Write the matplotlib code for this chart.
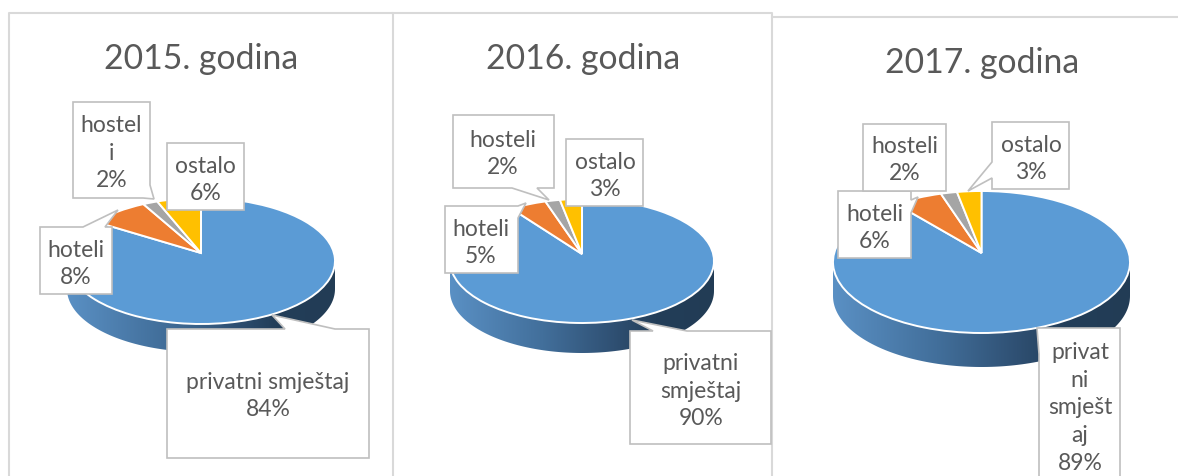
import numpy as np
import matplotlib
matplotlib.use('Agg')
import matplotlib.pyplot as plt
from matplotlib.colors import LinearSegmentedColormap
from matplotlib.patches import Polygon
from matplotlib.transforms import Transform

plt.rcParams['font.family'] = ['Lato', 'DejaVu Sans']

titles = ['2015. godina', '2016. godina', '2017. godina']
values_2015 = [84, 8, 2, 6]
values_2016 = [90, 5, 2, 3]
values_2017 = [89, 6, 2, 3]
labels_2015 = ['privatni smještaj\n84%', 'hoteli\n8%', 'hostel\ni\n2%', 'ostalo\n6%']
labels_2016 = ['privatni\nsmještaj\n90%', 'hoteli\n5%', 'hosteli\n2%', 'ostalo\n3%']
labels_2017 = ['privat\nni\nsmješt\naj\n89%', 'hoteli\n6%', 'hosteli\n2%', 'ostalo\n3%']
colors = ['#5B9BD5', '#ED7D31', '#A5A5A5', '#FFC000']

GREY = '#595959'
EDGE = '#BFBFBF'
BORDER = '#D9D9D9'
W, H = 1178, 476


class Tilt(Transform):
    # perspective of the pie disc, the apex sits above the middle of the ellipse
    input_dims = 2
    output_dims = 2

    def __init__(self, cx, cy, rx, up, down):
        super().__init__()
        self.k = (down - up) / (down + up)
        self.cx, self.cy = cx, cy
        self.sx = rx * np.sqrt(1 - self.k ** 2)
        self.sy = up * (1 + self.k)

    def transform_non_affine(self, xy):
        xy = np.asarray(xy)
        w = 1 + self.k * xy[:, 1]
        return np.column_stack([self.cx + self.sx * xy[:, 0] / w,
                                self.cy - self.sy * xy[:, 1] / w])


# layout of each pie: apex x, apex y, half width, px above and below apex, depth
pies = [
    (titles[0], (201, 59), values_2015, labels_2015, (201, 253, 134, 55, 71, 28)),
    (titles[1], (583, 59), values_2016, labels_2016, (582, 254, 132, 55, 69, 30)),
    (titles[2], (982, 63), values_2017, labels_2017, (981.5, 253, 148.5, 62, 80, 34)),
]

# callout outlines in pixels, same order as the labels
callouts = [
    [[(167, 329), (285, 329), (272, 315), (335, 329), (369, 329), (369, 458), (167, 458)],
     [(40, 227), (83, 227), (118, 210), (105, 227), (112, 227), (112, 294), (40, 294)],
     [(73, 102), (150, 102), (150, 185), (154, 199), (143, 198), (73, 198)],
     [(167, 143), (244, 143), (244, 210), (167, 210)]],
    [[(630, 331), (653, 331), (632, 320), (687, 331), (771, 331), (771, 444), (630, 444)],
     [(445, 206), (518, 206), (526, 203), (518, 218), (518, 273), (445, 273)],
     [(453, 115), (554, 115), (554, 188), (537, 188), (549, 200), (512, 188), (453, 188)],
     [(566, 139), (643, 139), (643, 206), (566, 206)]],
    [[(1039, 328), (1120, 328), (1120, 490), (1039, 490), (1039, 354), (1037, 328)],
     [(838, 191), (911, 191), (911, 200), (918, 197), (911, 213), (911, 258), (838, 258)],
     [(863, 124), (946, 124), (946, 191), (863, 191)],
     [(992, 122), (1069, 122), (1069, 189), (992, 189), (992, 178), (968, 191), (992, 162)]],
]
# where the text of each callout is centred
label_pos = [
    [(268, 396), (76, 264), (111.5, 153), (205.5, 180)],
    [(701, 391), (481, 243), (503, 154), (605, 176)],
    [(1080, 408), (875, 228), (905, 160), (1031, 159)],
]

side_cmap = LinearSegmentedColormap.from_list(
    'side', [(0, '#5A90C4'), (0.35, '#426F9B'), (0.62, '#2F5073'), (0.78, '#233E59'), (1, '#223C55')])

fig = plt.figure(figsize=(W / 100, H / 100), dpi=100)
ax = fig.add_axes([0, 0, 1, 1])

for (title, tpos, values, labels, geo), boxes, places in zip(pies, callouts, label_pos):
    cx, cy, rx, up, down, depth = geo

    # side of the disc, gradient clipped to the lower rim
    mid = cy + (down - up) / 2
    ry = (down + up) / 2
    t = np.linspace(0, np.pi, 120)
    xs = cx + rx * np.cos(t)
    ys = mid + ry * np.sin(t)
    band = np.vstack([np.column_stack([xs, ys]),
                      np.column_stack([xs[::-1], ys[::-1] + depth])])
    im = ax.imshow(np.linspace(0, 1, 256)[None, :], cmap=side_cmap, aspect='auto',
                   extent=(cx - rx, cx + rx, mid + ry + depth, mid), zorder=1, vmin=0, vmax=1)
    im.set_clip_path(Polygon(band, transform=ax.transData))

    wedges, _ = ax.pie(values, colors=colors, startangle=90, counterclock=False,
                       wedgeprops={'edgecolor': 'white', 'linewidth': 1.4, 'zorder': 2})
    tilt = Tilt(cx, cy, rx, up, down)
    for w in wedges:
        w.set_transform(tilt + ax.transData)
        w.set_clip_on(False)

    # labels
    for box, label, place in zip(boxes, labels, places):
        ax.add_patch(Polygon(box, closed=True, facecolor='white', edgecolor=EDGE,
                             linewidth=1.2, zorder=3, joinstyle='miter'))
        ax.text(place[0], place[1], label, ha='center', va='center', color=GREY,
                fontsize=16.5, linespacing=1.4, zorder=4)

    ax.text(tpos[0], tpos[1], title, ha='center', va='center', color=GREY, fontsize=24.3, zorder=4)

# chart frames
ax.plot([9, 9, 393, 393], [476, 13, 13, 476], color=BORDER, lw=1.5, zorder=0.5)
ax.plot([393, 772, 772], [13, 13, 476], color=BORDER, lw=1.5, zorder=0.5)
ax.plot([1178, 772], [17, 17], color=BORDER, lw=1.5, zorder=0.5)

ax.set_aspect('auto')
ax.set_xlim(0, W)
ax.set_ylim(H, 0)
ax.axis('off')

fig.savefig('out.png', dpi=100)
